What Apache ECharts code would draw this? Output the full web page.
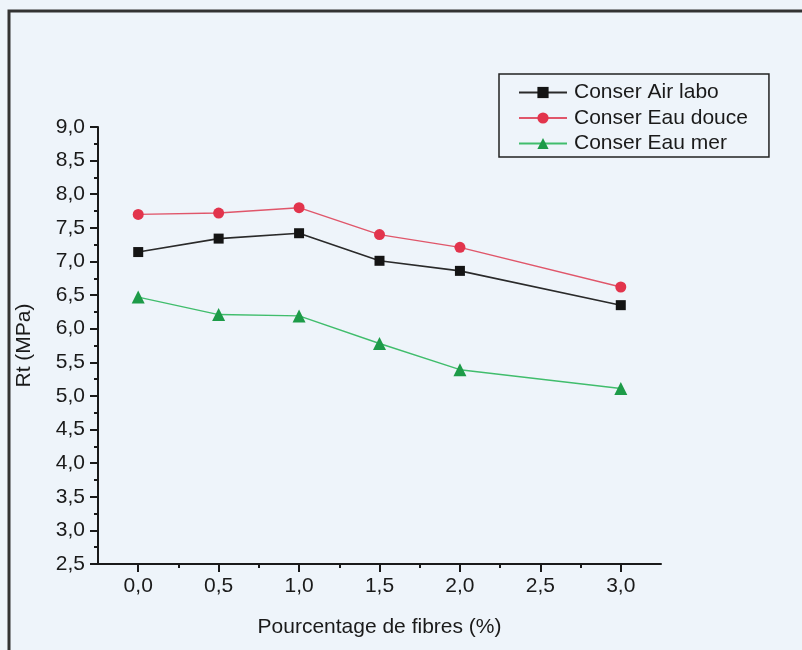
<!DOCTYPE html>
<html>
<head>
<meta charset="utf-8">
<script src="https://cdn.jsdelivr.net/npm/echarts@6/dist/echarts.min.js"></script>
<style>
  html, body { margin: 0; padding: 0; background: #eef4fa; }
  #chart { width: 802px; height: 650px; }
</style>
</head>
<body>
<div id="chart"></div>
<script>
// Fibre content (%) on the x axis
const fibres = [0.0, 0.5, 1.0, 1.5, 2.0, 3.0];

// Tensile strength Rt (MPa) per curing condition
const airLabo  = [7.14, 7.34, 7.42, 7.01, 6.86, 6.35];
const eauDouce = [7.70, 7.72, 7.80, 7.40, 7.21, 6.62];
const eauMer   = [6.47, 6.21, 6.19, 5.78, 5.39, 5.11];

const seriesNames = ['Conser Air labo', 'Conser Eau douce', 'Conser Eau mer'];

// Labelled x ticks
const xMajorTicks = [0.0, 0.5, 1.0, 1.5, 2.0, 2.5, 3.0];

const fmt = v => v.toFixed(1).replace('.', ',');
const pairs = ys => fibres.map((x, i) => [x, ys[i]]);

const FONT = '"Liberation Sans", Arial, sans-serif';
const INK = '#1a1a1a';
const FS = 21;

const chart = echarts.init(document.getElementById('chart'), null, { renderer: 'canvas' });

chart.setOption({
  backgroundColor: '#eef4fa',
  animation: false,
  textStyle: { fontFamily: FONT, color: INK },
  graphic: [{
    type: 'rect',
    shape: { x: 9, y: 11, width: 820, height: 700 },
    style: { fill: 'none', stroke: '#333', lineWidth: 3 },
    z: 0
  }],
  grid: { left: 98, right: 141, top: 127, bottom: 86, containLabel: false },
  legend: {
    orient: 'vertical',
    left: 499,
    top: 74,
    padding: [8, 21, 3, 19],
    itemWidth: 48,
    itemHeight: 14,
    itemGap: 4.5,
    borderColor: '#222',
    borderWidth: 1.5,
    textStyle: { fontFamily: FONT, fontSize: FS, color: INK, padding: [0, 0, 0, 2] },
    data: seriesNames
  },
  xAxis: [{
    type: 'value',
    min: -0.25,
    max: 3.25,
    interval: 0.25,
    name: 'Pourcentage de fibres (%)',
    nameLocation: 'middle',
    nameGap: 53,
    nameTextStyle: { fontFamily: FONT, fontSize: FS, color: INK },
    axisLine: { show: true, onZero: false, lineStyle: { color: INK, width: 2 } },
    axisTick: { show: true, inside: false, length: 4, lineStyle: { color: INK, width: 2 } },
    axisLabel: {
      show: true,
      margin: 12,
      fontFamily: FONT,
      fontSize: FS,
      color: INK,
      showMinLabel: false,
      showMaxLabel: false,
      formatter: v => (Math.abs(v * 2 - Math.round(v * 2)) < 1e-6 && v >= 0 && v <= 3 ? fmt(v) : '')
    },
    splitLine: { show: false }
  }, {
    // longer ticks at the labelled positions
    type: 'value',
    position: 'bottom',
    min: -0.25,
    max: 3.25,
    axisLine: { show: false, onZero: false },
    axisTick: {
      show: true,
      length: 8,
      customValues: xMajorTicks,
      lineStyle: { color: INK, width: 2 }
    },
    axisLabel: { show: false },
    splitLine: { show: false }
  }],
  yAxis: {
    type: 'value',
    min: 2.5,
    max: 9.0,
    interval: 0.5,
    name: 'Rt (MPa)',
    nameLocation: 'middle',
    nameGap: 63,
    nameTextStyle: { fontFamily: FONT, fontSize: FS, color: INK },
    axisLine: { show: true, onZero: false, lineStyle: { color: INK, width: 2 } },
    axisTick: { show: true, inside: false, length: 8, lineStyle: { color: INK, width: 2 } },
    minorTick: { show: true, splitNumber: 2, length: 4, lineStyle: { color: INK, width: 2 } },
    axisLabel: { margin: 13, fontFamily: FONT, fontSize: FS, color: INK, formatter: v => fmt(v) },
    splitLine: { show: false }
  },
  series: [{
    name: seriesNames[0],
    type: 'line',
    data: pairs(airLabo),
    symbol: 'rect',
    symbolSize: 10,
    itemStyle: { color: '#141414' },
    lineStyle: { color: '#2a2a2a', width: 1.6 },
    z: 3
  }, {
    name: seriesNames[1],
    type: 'line',
    data: pairs(eauDouce),
    symbol: 'circle',
    symbolSize: 11,
    itemStyle: { color: '#e2344c' },
    lineStyle: { color: '#e0566a', width: 1.4 },
    z: 3
  }, {
    name: seriesNames[2],
    type: 'line',
    data: pairs(eauMer),
    symbol: 'triangle',
    symbolSize: 13,
    itemStyle: { color: '#1d9b48' },
    lineStyle: { color: '#40bd6c', width: 1.4 },
    z: 3
  }]
});
</script>
</body>
</html>
